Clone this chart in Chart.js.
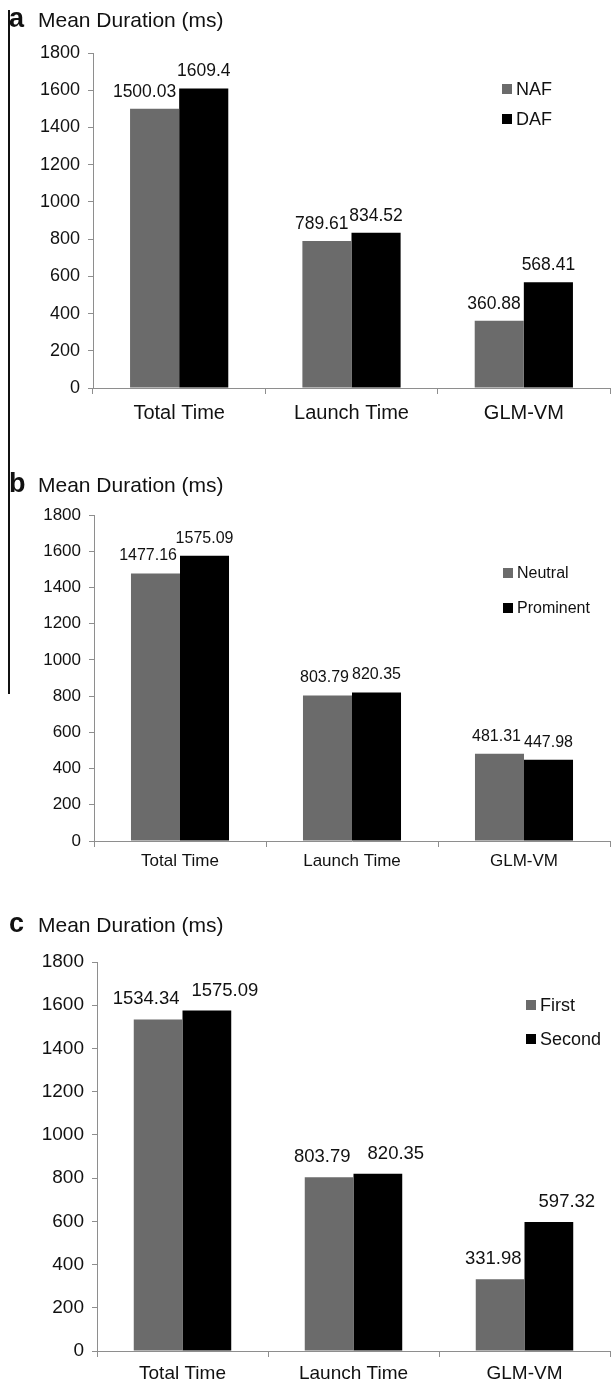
<!DOCTYPE html>
<html>
<head>
<meta charset="utf-8">
<script src="https://cdn.jsdelivr.net/npm/chart.js@4.4.1/dist/chart.umd.min.js"></script>
<style>
    body { margin: 0; background: #fff; width: 611px; height: 1381px; position: relative; overflow: hidden; }
    canvas { position: absolute; left: 0; }
    #frame { position: absolute; left: 8px; top: 10px; height: 684px; border-left: 2px solid #111; }
</style>
</head>
<body>
<div id="frame"></div>
<canvas id="chartA" width="611" height="440" style="top:0"></canvas>
<canvas id="chartB" width="611" height="440" style="top:440px"></canvas>
<canvas id="chartC" width="611" height="501" style="top:880px"></canvas>
<script>
const categories = ['Total Time', 'Launch Time', 'GLM-VM'];
const yTicks = [0, 200, 400, 600, 800, 1000, 1200, 1400, 1600, 1800];

// panel a
const seriesA = ['NAF', 'DAF'];
const nafValues = [1500.03, 789.61, 360.88];
const dafValues = [1609.4, 834.52, 568.41];

// panel b
const seriesB = ['Neutral', 'Prominent'];
const neutralValues = [1477.16, 803.79, 481.31];
const prominentValues = [1575.09, 820.35, 447.98];

// panel c
const seriesC = ['First', 'Second'];
const firstValues = [1534.34, 803.79, 331.98];
const secondValues = [1575.09, 820.35, 597.32];

const FONT = '"Liberation Sans", Arial, sans-serif';
const GRAY = '#6b6b6b';
const AXIS = '#8e8e8e';

// title, legend and value labels
const decorations = {
    id: 'decorations',
    afterDraw(chart, args, o) {
        const ctx = chart.ctx;
        ctx.save();
        ctx.fillStyle = '#111';
        ctx.textBaseline = 'alphabetic';
        ctx.textAlign = 'left';
        ctx.font = 'bold 27px ' + FONT;
        ctx.fillText(o.letter, 9, o.titleY);
        ctx.font = '21px ' + FONT;
        ctx.fillText('Mean Duration (ms)', 38, o.titleY);

        // values above bars
        ctx.font = o.valueSize + 'px ' + FONT;
        chart.data.datasets.forEach((ds, di) => {
            chart.getDatasetMeta(di).data.forEach((bar, i) => {
                const text = String(ds.data[i]);
                if (di === 0) {
                    ctx.textAlign = 'right';
                    ctx.fillText(text, bar.x + bar.width / 2 - 3, bar.y - o.lift);
                } else {
                    ctx.textAlign = 'center';
                    ctx.fillText(text, bar.x + o.dx, bar.y - o.lift);
                }
            });
        });

        // legend
        ctx.textAlign = 'left';
        ctx.textBaseline = 'middle';
        ctx.font = o.legendSize + 'px ' + FONT;
        chart.data.datasets.forEach((ds, di) => {
            const cy = o.legendY + di * o.legendGap;
            ctx.fillStyle = ds.backgroundColor;
            ctx.fillRect(o.legendX, cy - 5, 10, 10);
            ctx.fillStyle = '#111';
            ctx.fillText(ds.label, o.legendX + 14, cy + 1);
        });
        ctx.restore();
    }
};

function makeChart(id, names, first, second, p) {
    return new Chart(document.getElementById(id), {
        type: 'bar',
        data: {
            labels: categories,
            datasets: [
                { label: names[0], data: first, backgroundColor: GRAY, borderWidth: 0 },
                { label: names[1], data: second, backgroundColor: '#000', borderWidth: 0 }
            ]
        },
        options: {
            responsive: false,
            animation: false,
            devicePixelRatio: 1,
            categoryPercentage: 0.57,
            barPercentage: 1,
            layout: { padding: { top: p.top, right: 1, bottom: 0, left: 0 } },
            plugins: {
                legend: { display: false },
                tooltip: { enabled: false },
                decorations: p
            },
            scales: {
                x: {
                    grid: { display: true, drawOnChartArea: false, color: AXIS, tickLength: 6 },
                    border: { color: AXIS, width: 1 },
                    ticks: { color: '#111', padding: p.xPad, font: { family: FONT, size: p.xSize } },
                    afterFit(scale) { scale.height = p.xHeight; }
                },
                y: {
                    min: 0,
                    max: 1800,
                    afterBuildTicks(scale) { scale.ticks = yTicks.map(v => ({ value: v })); },
                    grid: { display: true, drawOnChartArea: false, color: AXIS, tickLength: 5 },
                    border: { color: AXIS, width: 1 },
                    ticks: {
                        color: '#111',
                        padding: 8,
                        font: { family: FONT, size: p.tickSize },
                        callback: value => String(value)
                    },
                    afterFit(scale) { scale.width = p.yWidth; }
                }
            }
        },
        plugins: [decorations]
    });
}

makeChart('chartA', seriesA, nafValues, dafValues, {
    letter: 'a', titleY: 27, top: 53, xHeight: 52, yWidth: 93,
    tickSize: 18, xSize: 20, xPad: 7, valueSize: 17.5, lift: 12, dx: 0,
    legendX: 502, legendY: 89, legendGap: 30, legendSize: 18
});

makeChart('chartB', seriesB, neutralValues, prominentValues, {
    letter: 'b', titleY: 52, top: 75, xHeight: 39, yWidth: 94,
    tickSize: 17, xSize: 17, xPad: 4, valueSize: 16, lift: 13, dx: 0,
    legendX: 503, legendY: 133, legendGap: 35, legendSize: 16
});

makeChart('chartC', seriesC, firstValues, secondValues, {
    letter: 'c', titleY: 52, top: 82, xHeight: 30, yWidth: 97,
    tickSize: 19, xSize: 19, xPad: 5, valueSize: 18.5, lift: 15, dx: 18,
    legendX: 526, legendY: 125, legendGap: 34, legendSize: 18
});
</script>
</body>
</html>
